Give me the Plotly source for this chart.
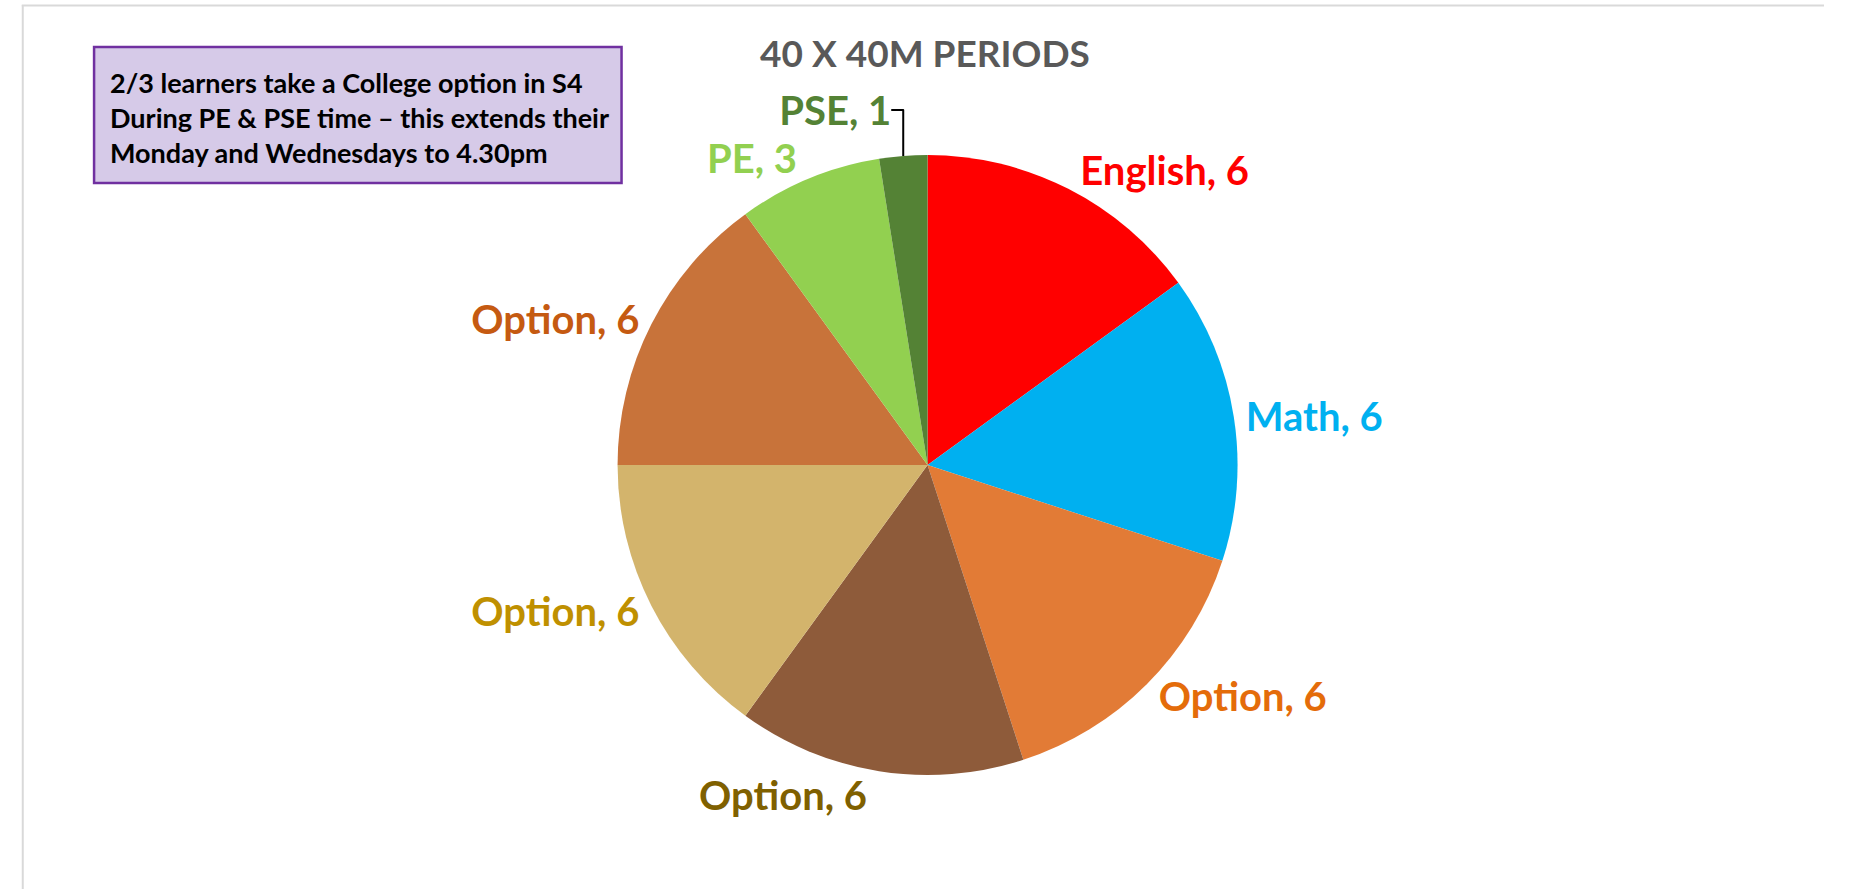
import plotly.graph_objects as go

# Data
subjects = ["English", "Math", "Option", "Option", "Option", "Option", "PE", "PSE"]
periods = [6, 6, 6, 6, 6, 6, 3, 1]
slice_colors = ["#FF0000", "#00B0F0", "#E27B36", "#8E5B3A", "#D3B46C", "#C8733A", "#92D050", "#548235"]
label_colors = ["#FF0000", "#00B0F0", "#E46C0A", "#7F6000", "#BF9000", "#C55A11", "#92D050", "#548235"]
title_text = "40 X 40M PERIODS"
note_lines = [
    "2/3 learners take a College option in S4",
    "During PE &amp; PSE time – this extends their",
    "Monday and Wednesdays to 4.30pm",
]

W, H = 1854, 889
FONT = "Lato, 'Open Sans', sans-serif"

fig = go.Figure()
fig.add_trace(go.Pie(
    labels=[f"{s} {i}" for i, s in enumerate(subjects)],
    values=periods,
    sort=False,
    direction="clockwise",
    rotation=0,
    marker=dict(colors=slice_colors, line=dict(width=0)),
    texttemplate=[f"{s}, {v}" for s, v in zip(subjects, periods)],
    textposition="outside",
    outsidetextfont=dict(family=FONT, size=40, color=label_colors, weight="bold"),
    showlegend=False,
    hoverinfo="skip",
    domain=dict(x=[0.205, 0.805], y=[1 - 775 / H, 1 - 155 / H]),
))

fig.add_annotation(
    text=f"<b>{title_text}</b>", x=934 / W, y=1 - 53 / H, xref="paper", yref="paper",
    showarrow=False, font=dict(family=FONT, size=37, color="#595959"),
    xanchor="center", yanchor="middle",
)

# note box
fig.add_shape(type="rect", xref="paper", yref="paper",
              x0=83 / W, x1=623 / W, y0=1 - 183 / H, y1=1 - 47 / H,
              fillcolor="#D6CAE8", line=dict(color="#7030A0", width=2.5))
fig.add_annotation(
    text="<br>".join(f"<b>{l}</b>" for l in note_lines),
    x=97 / W, y=1 - 117 / H, xref="paper", yref="paper", showarrow=False,
    align="left", xanchor="left", yanchor="middle",
    font=dict(family=FONT, size=27, color="#000000"),
)

# chart area border (top and left)
fig.add_shape(type="line", xref="paper", yref="paper", x0=9 / W, x1=1, y0=1 - 5.5 / H, y1=1 - 5.5 / H,
              line=dict(color="#D9D9D9", width=2))
fig.add_shape(type="line", xref="paper", yref="paper", x0=10 / W, x1=10 / W, y0=0, y1=1 - 5 / H,
              line=dict(color="#D9D9D9", width=2))

fig.update_layout(
    width=W, height=H,
    margin=dict(l=0, r=0, t=0, b=0),
    paper_bgcolor="white", plot_bgcolor="white",
)

fig.write_html(
    "out.html",
    config={"displayModeBar": False},
    post_script=(
        "document.documentElement.style.margin='0';"
        "document.body.style.margin='0';"
        "document.documentElement.style.overflow='hidden';"
        "document.body.style.overflow='hidden';"
    ),
)
